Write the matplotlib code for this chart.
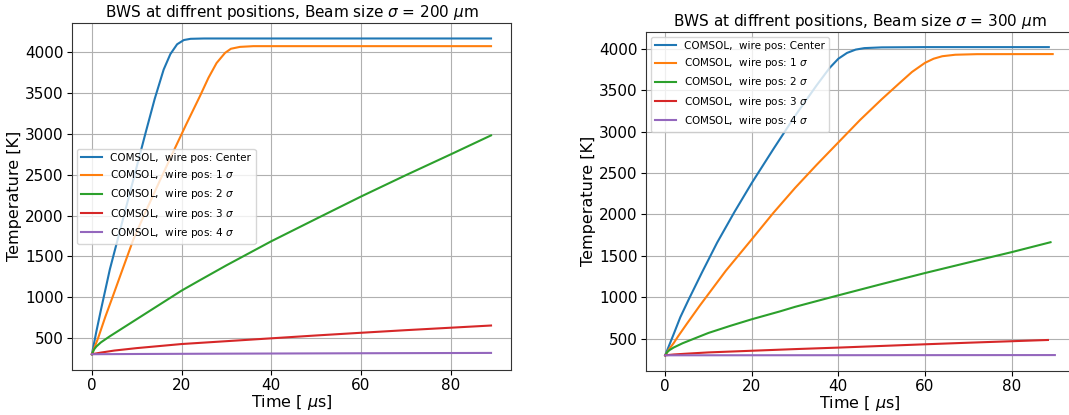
import matplotlib.pyplot as plt

# --- sigma = 200 um (left panel) ---
t200_c = [0, 1, 2, 3, 4, 6, 8, 10, 12, 14, 16, 17.5, 19, 20.5, 22, 25, 89]
T200_c = [300, 580, 840, 1090, 1340, 1760, 2180, 2600, 3020, 3430, 3790, 3980, 4100, 4152, 4167, 4171, 4171]
t200_1 = [0, 1.4, 3, 4.6, 6.5, 9.2, 12, 15, 18.4, 21, 24.1, 26, 27.8, 29.7, 31, 33, 36, 89]
T200_1 = [300, 500, 760, 1000, 1290, 1700, 2050, 2410, 2812, 3115, 3465, 3690, 3870, 3995, 4045, 4068, 4077, 4077]
t200_2 = [0, 0.5, 1, 2, 4, 6, 8, 12, 16, 20, 24, 30, 40, 50, 60, 70, 80, 89]
T200_2 = [300, 360, 395, 445, 520, 590, 660, 800, 940, 1080, 1205, 1390, 1685, 1960, 2233, 2495, 2750, 2983]
t200_3 = [0, 2, 5, 10, 20, 30, 40, 50, 60, 70, 80, 89]
T200_3 = [300, 320, 345, 375, 425, 460, 495, 530, 563, 595, 625, 652]
t200_4 = [0, 10, 30, 60, 89]
T200_4 = [300, 303, 307, 312, 316]

# --- sigma = 300 um (right panel) ---
t300_c = [0, 1, 2, 3.5, 5.4, 8.5, 12, 16, 20, 25, 30, 35, 38, 40, 42, 44, 46, 50, 60, 88.6]
T300_c = [300, 430, 560, 760, 970, 1300, 1660, 2030, 2380, 2790, 3190, 3560, 3770, 3880, 3950, 3990, 4008, 4017, 4020, 4020]
t300_1 = [0, 1, 2, 3, 5, 8, 11, 14, 20, 25, 30, 35, 40, 45, 50, 54, 57, 60, 62, 64, 67, 72, 89.5]
T300_1 = [300, 380, 450, 530, 680, 900, 1110, 1320, 1700, 2020, 2320, 2600, 2870, 3140, 3390, 3580, 3720, 3830,
          3880, 3910, 3928, 3935, 3936]
t300_2 = [0, 0.5, 1, 2, 4, 7.3, 10, 15, 20, 26.5, 30, 40, 50, 60, 70, 80, 89]
T300_2 = [300, 340, 363, 395, 445, 514, 570, 655, 735, 830, 885, 1024, 1160, 1293, 1420, 1545, 1665]
t300_3 = [0, 2, 5, 10, 20, 30, 40, 50, 60, 70, 80, 88.4]
T300_3 = [300, 310, 320, 335, 355, 375, 393, 413, 433, 452, 470, 485]
t300_4 = [0, 30, 60, 90]
T300_4 = [300, 301, 302, 303]

labels = ['COMSOL,  wire pos: Center', r'COMSOL,  wire pos: 1 $\sigma$', r'COMSOL,  wire pos: 2 $\sigma$',
          r'COMSOL,  wire pos: 3 $\sigma$', r'COMSOL,  wire pos: 4 $\sigma$']

fig = plt.figure(figsize=(10.69, 4.15), dpi=100)
ax1 = fig.add_axes([0.0673, 0.1084, 0.4107, 0.8369])
ax2 = fig.add_axes([0.604, 0.1067, 0.401, 0.8169])

for t, T, lab in zip([t200_c, t200_1, t200_2, t200_3, t200_4],
                     [T200_c, T200_1, T200_2, T200_3, T200_4], labels):
    ax1.plot(t, T, label=lab, linewidth=1.5)
for t, T, lab in zip([t300_c, t300_1, t300_2, t300_3, t300_4],
                     [T300_c, T300_1, T300_2, T300_3, T300_4], labels):
    ax2.plot(t, T, label=lab, linewidth=1.5)

for ax, s in [(ax1, 200), (ax2, 300)]:
    ax.set_title(r'BWS at diffrent positions, Beam size $\sigma$ = %d $\mu$m' % s, fontsize=11, pad=4)
    ax.set_xlabel(r'Time [ $\mu$s]', fontsize=11.5, labelpad=0)
    ax.set_ylabel('Temperature [K]', fontsize=11.5, labelpad=2)
    ax.tick_params(labelsize=11, pad=2.5)
    ax.grid(True)
    for sp in ax.spines.values():
        sp.set_color('#333333')

ax1.legend(loc='center left', fontsize=7.5)
ax2.legend(loc='upper left', fontsize=7.5)

plt.savefig('out.png')
